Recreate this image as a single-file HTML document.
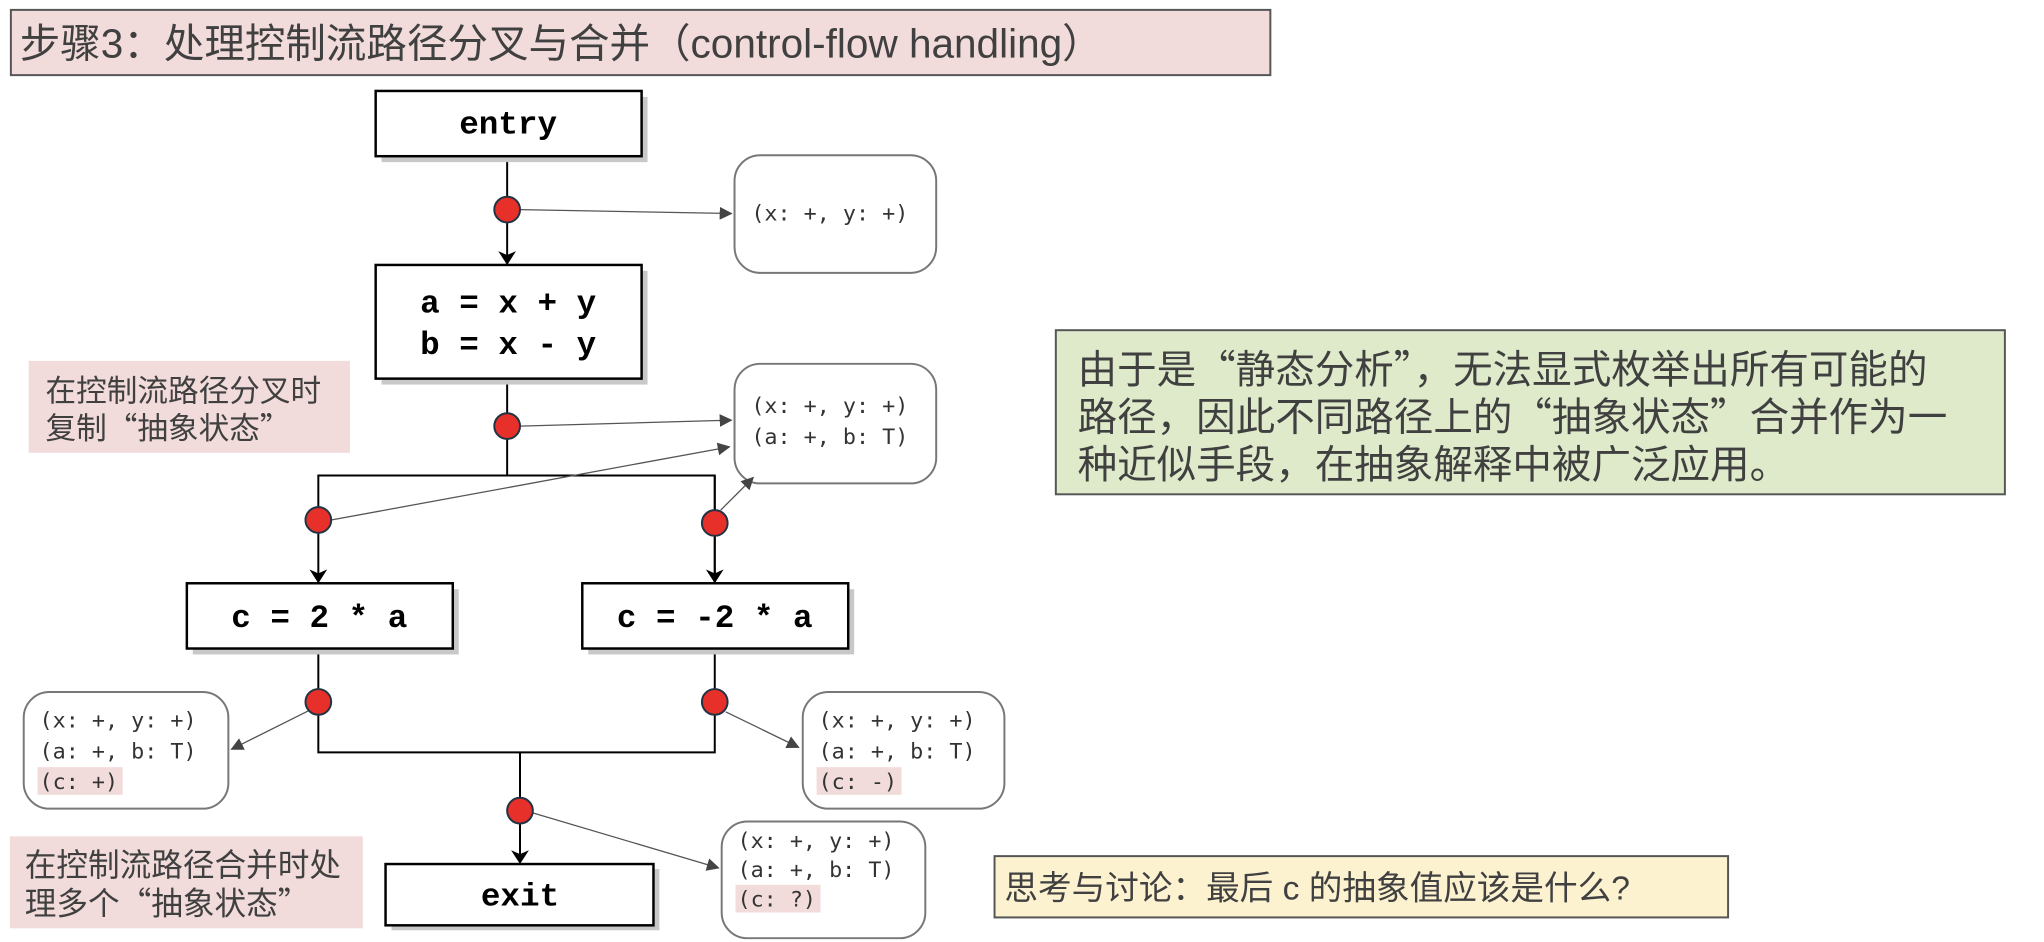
<!DOCTYPE html>
<html><head><meta charset="utf-8"><style>
html,body{margin:0;padding:0;background:#fff;}
body{width:2044px;height:942px;overflow:hidden;}
svg{display:block}
.cjk{font-family:"Liberation Sans","Noto Sans CJK SC",sans-serif;fill:#404040;}
.cj2{font-family:"Noto Sans CJK SC","WenQuanYi Zen Hei",sans-serif;fill:#404040;}
.code{font-family:"Liberation Mono","DejaVu Sans Mono",monospace;font-weight:bold;font-size:33px;fill:#000;}
.st{font-family:"DejaVu Sans Mono","Liberation Mono",monospace;font-size:22px;fill:#333;}
</style></head><body>
<svg width="2044" height="942" viewBox="0 0 2044 942" xmlns="http://www.w3.org/2000/svg">
<defs>
<marker id="ab" markerWidth="14" markerHeight="18" refX="13" refY="9" orient="auto" markerUnits="userSpaceOnUse"><path d="M0,0 L14,9 L0,18 L4,9 z" fill="#000"/></marker>
<marker id="ag" markerWidth="13" markerHeight="13" refX="12" refY="6.5" orient="auto" markerUnits="userSpaceOnUse"><path d="M0,0 L13,6.5 L0,13 z" fill="#444"/></marker>
</defs>
<g transform="scale(0.9886)">
<!-- title -->
<rect x="11" y="10" width="1274" height="66" fill="#f2dcdb" stroke="#555" stroke-width="2"/>
<text x="20" y="58" class="cjk" font-size="41">步骤3：处理控制流路径分叉与合并（control-flow handling）</text>

<!-- main flow lines -->
<g stroke="#000" stroke-width="2" fill="none">
<line x1="513" y1="158" x2="513" y2="267" marker-end="url(#ab)"/>
<polyline points="513,383 513,481 322,481 322,589" marker-end="url(#ab)"/>
<polyline points="513,481 723,481 723,589"/>
<line x1="723" y1="481" x2="723" y2="589" marker-end="url(#ab)"/>
<polyline points="322,656 322,761 723,761 723,656"/>
<line x1="526" y1="761" x2="526" y2="873" marker-end="url(#ab)"/>
</g>

<!-- boxes with shadows -->
<g fill="#c8c8c8">
<rect x="386" y="98" width="269" height="66"/>
<rect x="386" y="274" width="269" height="115"/>
<rect x="195" y="596" width="269" height="66"/>
<rect x="595" y="596" width="269" height="66"/>
<rect x="396" y="879" width="271" height="62"/>
</g>
<g fill="#fff" stroke="#000" stroke-width="2.5">
<rect x="380" y="92" width="269" height="66"/>
<rect x="380" y="268" width="269" height="115"/>
<rect x="189" y="590" width="269" height="66"/>
<rect x="589" y="590" width="269" height="66"/>
<rect x="390" y="874" width="271" height="62"/>
</g>
<text x="514" y="135" class="code" text-anchor="middle">entry</text>
<text x="514" y="316" class="code" text-anchor="middle">a = x + y</text>
<text x="514" y="358" class="code" text-anchor="middle">b = x - y</text>
<text x="323" y="634" class="code" text-anchor="middle">c = 2 * a</text>
<text x="723" y="634" class="code" text-anchor="middle">c = -2 * a</text>
<text x="526" y="916" class="code" text-anchor="middle">exit</text>

<!-- state boxes -->
<g fill="#fff" stroke="#777" stroke-width="2">
<rect x="743" y="157" width="204" height="119" rx="26"/>
<rect x="743" y="368" width="204" height="121" rx="26"/>
<rect x="24" y="700" width="207" height="118" rx="26"/>
<rect x="812" y="700" width="204" height="118" rx="26"/>
<rect x="730" y="831" width="206" height="118" rx="26"/>
</g>
<g fill="#f2dcdb">
<rect x="38" y="776" width="86" height="28"/>
<rect x="826" y="776" width="86" height="28"/>
<rect x="744" y="895" width="86" height="28"/>
</g>
<text x="760" y="223" class="st">(x: +, y: +)</text>
<text x="760" y="418" class="st">(x: +, y: +)</text>
<text x="760" y="449" class="st">(a: +, b: T)</text>
<text x="40" y="736" class="st">(x: +, y: +)</text>
<text x="40" y="767" class="st">(a: +, b: T)</text>
<text x="40" y="798" class="st">(c: +)</text>
<text x="828" y="736" class="st">(x: +, y: +)</text>
<text x="828" y="767" class="st">(a: +, b: T)</text>
<text x="828" y="798" class="st">(c: -)</text>
<text x="746" y="858" class="st">(x: +, y: +)</text>
<text x="746" y="887" class="st">(a: +, b: T)</text>
<text x="746" y="917" class="st">(c: ?)</text>

<!-- state arrows -->
<g stroke="#555" stroke-width="1.3" fill="none">
<line x1="526" y1="212" x2="740" y2="216" marker-end="url(#ag)"/>
<line x1="526" y1="431" x2="740" y2="425" marker-end="url(#ag)"/>
<line x1="335" y1="526" x2="738" y2="452" marker-end="url(#ag)"/>
<line x1="729" y1="516" x2="762" y2="483" marker-end="url(#ag)"/>
<line x1="312" y1="719" x2="234" y2="758" marker-end="url(#ag)"/>
<line x1="734" y1="720" x2="808" y2="756" marker-end="url(#ag)"/>
<line x1="538" y1="822" x2="727" y2="878" marker-end="url(#ag)"/>
</g>

<!-- red dots -->
<g fill="#e8302a" stroke="#234" stroke-width="2">
<circle cx="513" cy="212" r="13"/>
<circle cx="513" cy="431" r="13"/>
<circle cx="322" cy="526" r="13"/>
<circle cx="723" cy="529" r="13"/>
<circle cx="322" cy="710" r="13"/>
<circle cx="723" cy="710" r="13"/>
<circle cx="526" cy="820" r="13"/>
</g>

<!-- pink notes -->
<rect x="29" y="365" width="325" height="93" fill="#f2dcdb"/>
<text x="46" y="406" class="cj2" font-size="31">在控制流路径分叉时</text>
<text x="46" y="444" class="cj2" font-size="31">复制“抽象状态”</text>
<rect x="10" y="846" width="357" height="93" fill="#f2dcdb"/>
<text x="25" y="886" class="cj2" font-size="32">在控制流路径合并时处</text>
<text x="25" y="925" class="cj2" font-size="32">理多个“抽象状态”</text>

<!-- green note -->
<rect x="1068" y="334" width="960" height="166" fill="#dfeacb" stroke="#555" stroke-width="2"/>
<text x="1090" y="388" class="cj2" font-size="40">由于是“静态分析”，无法显式枚举出所有可能的</text>
<text x="1090" y="436" class="cj2" font-size="40">路径，因此不同路径上的“抽象状态”合并作为一</text>
<text x="1090" y="484" class="cj2" font-size="40">种近似手段，在抽象解释中被广泛应用。</text>

<!-- yellow note -->
<rect x="1006" y="866" width="742" height="62" fill="#fdf2d0" stroke="#555" stroke-width="2"/>
<text x="1016" y="910" class="cjk" font-size="34">思考与讨论：最后 c 的抽象值应该是什么?</text>
</g>
</svg>
</body></html>
